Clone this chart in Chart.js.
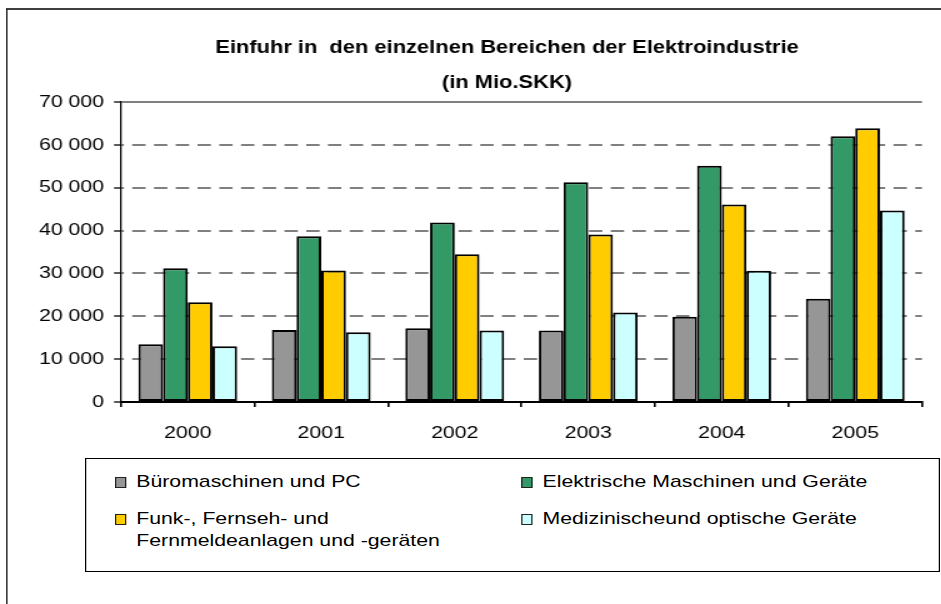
<!DOCTYPE html>
<html>
<head>
<meta charset="utf-8">
<script src="https://cdn.jsdelivr.net/npm/chart.js@4.4.0/dist/chart.umd.min.js"></script>
<style>
  html, body { margin: 0; padding: 0; background: #fff; overflow: hidden; width: 941px; height: 604px; }
  #stage { position: absolute; left: 0; top: 0; width: 753px; height: 604px; transform: scaleX(1.25); transform-origin: 0 0; }
  #frame { position: absolute; left: 5.4px; top: 8px; width: 900px; height: 800px; border-left: 1.6px solid #000; border-top: 2px solid #404040; }
  #c { position: absolute; left: 0; top: 0; }
  #legend { position: absolute; left: 68px; top: 458px; width: 682px; height: 112px; border: 1.6px solid #000; background: #fff;
            font: 17px "Liberation Sans", Arial, sans-serif; color: #000; }
  .item { position: absolute; display: flex; align-items: flex-start; line-height: 22px; }
  .sw { width: 7px; height: 9px; border: 1px solid #222; margin-top: 6px; margin-right: 8px; flex: none; }
  .txt { width: 275px; }
</style>
</head>
<body>
<div id="stage">
  <div id="frame"></div>
  <canvas id="c" width="753" height="604"></canvas>
  <div id="legend"></div>
</div>
<script>
const years = ['2000', '2001', '2002', '2003', '2004', '2005'];
const seriesNames = [
  'Büromaschinen und PC',
  'Elektrische Maschinen und Geräte',
  'Funk-, Fernseh- und Fernmeldeanlagen und -geräten',
  'Medizinischeund optische Geräte'
];
const bueromaschinen = [13500, 16800, 17200, 16700, 19900, 24100];
const elektrische    = [31200, 38700, 41900, 51300, 55100, 62000];
const funk           = [23300, 30700, 34500, 39100, 46100, 63900];
const medizin        = [13000, 16300, 16700, 20900, 30600, 44700];
const seriesColors = ['#969696', '#339966', '#FFCC00', '#CCFFFF'];
const yMin = 0, yMax = 70000, yStep = 10000;
const titleLines = ['Einfuhr in  den einzelnen Bereichen der Elektroindustrie', '(in Mio.SKK)'];

const fmt = v => String(v).replace(/\B(?=(\d{3})+(?!\d))/g, ' ');

Chart.defaults.font.family = '"Liberation Sans", Arial, sans-serif';
Chart.defaults.font.size = 17;
Chart.defaults.color = '#000';

const seriesData = [bueromaschinen, elektrische, funk, medizin];

// let the y tick labels use the room on the left of the axis box
const labelRoom = {
  id: 'labelRoom',
  afterLayout(chart) { chart.scales.y.left = 0; }
};

const chart = new Chart(document.getElementById('c'), {
  type: 'bar',
  data: {
    labels: years,
    datasets: seriesData.map((d, i) => ({
      label: seriesNames[i],
      data: d,
      backgroundColor: seriesColors[i],
      borderColor: '#000',
      borderWidth: 2,
      borderSkipped: false,
      categoryPercentage: 0.74,
      barPercentage: 1.0
    }))
  },
  plugins: [labelRoom],
  options: {
    responsive: false,
    animation: false,
    devicePixelRatio: 1,
    layout: { padding: { left: 73.6, right: 15.4, top: 0, bottom: 0 } },
    plugins: {
      legend: { display: false },
      tooltip: { enabled: false },
      title: {
        display: true,
        text: titleLines,
        color: '#000',
        font: { size: 17.5, weight: 'bold', lineHeight: 35 / 17.5 },
        padding: { top: 30.5, bottom: 1.5 }
      }
    },
    scales: {
      x: {
        offset: true,
        grid: {
          offset: true,
          drawOnChartArea: true,
          color: c => (c.index === years.length ? '#808080' : 'rgba(0,0,0,0)'),
          lineWidth: 1.6,
          tickColor: '#000',
          tickWidth: 1.6,
          tickLength: 5
        },
        border: { display: true, color: '#000', width: 2 },
        ticks: { padding: 16, color: '#000', font: { size: 17 } },
        afterFit: s => { s.height = 202; }
      },
      y: {
        min: yMin,
        max: yMax,
        ticks: { stepSize: yStep, padding: 8, color: '#000', callback: v => fmt(v), font: { size: 17 } },
        grid: {
          color: '#808080',
          lineWidth: 2,
          tickColor: '#000',
          tickWidth: 1.3,
          tickLength: 5.6
        },
        border: {
          display: true,
          color: '#000',
          width: 1.3,
          dash: c => (c.tick && c.tick.value > yMin && c.tick.value < yMax ? [10.7, 6.7] : []),
          dashOffset: 8.9
        },
        afterFit: s => { s.width = 96.8 - 73.6; }
      }
    }
  }
});

// Legend built from the chart's datasets
const legendEl = document.getElementById('legend');
const colX = [23, 348];
const rowY = [11.5, 48.5];
chart.data.datasets.forEach((ds, i) => {
  const item = document.createElement('div');
  item.className = 'item';
  item.style.left = colX[i % 2] + 'px';
  item.style.top = rowY[Math.floor(i / 2)] + 'px';
  const sw = document.createElement('div');
  sw.className = 'sw';
  sw.style.background = ds.backgroundColor;
  const t = document.createElement('div');
  t.className = 'txt';
  t.textContent = ds.label;
  item.appendChild(sw);
  item.appendChild(t);
  legendEl.appendChild(item);
});
</script>
</body>
</html>
